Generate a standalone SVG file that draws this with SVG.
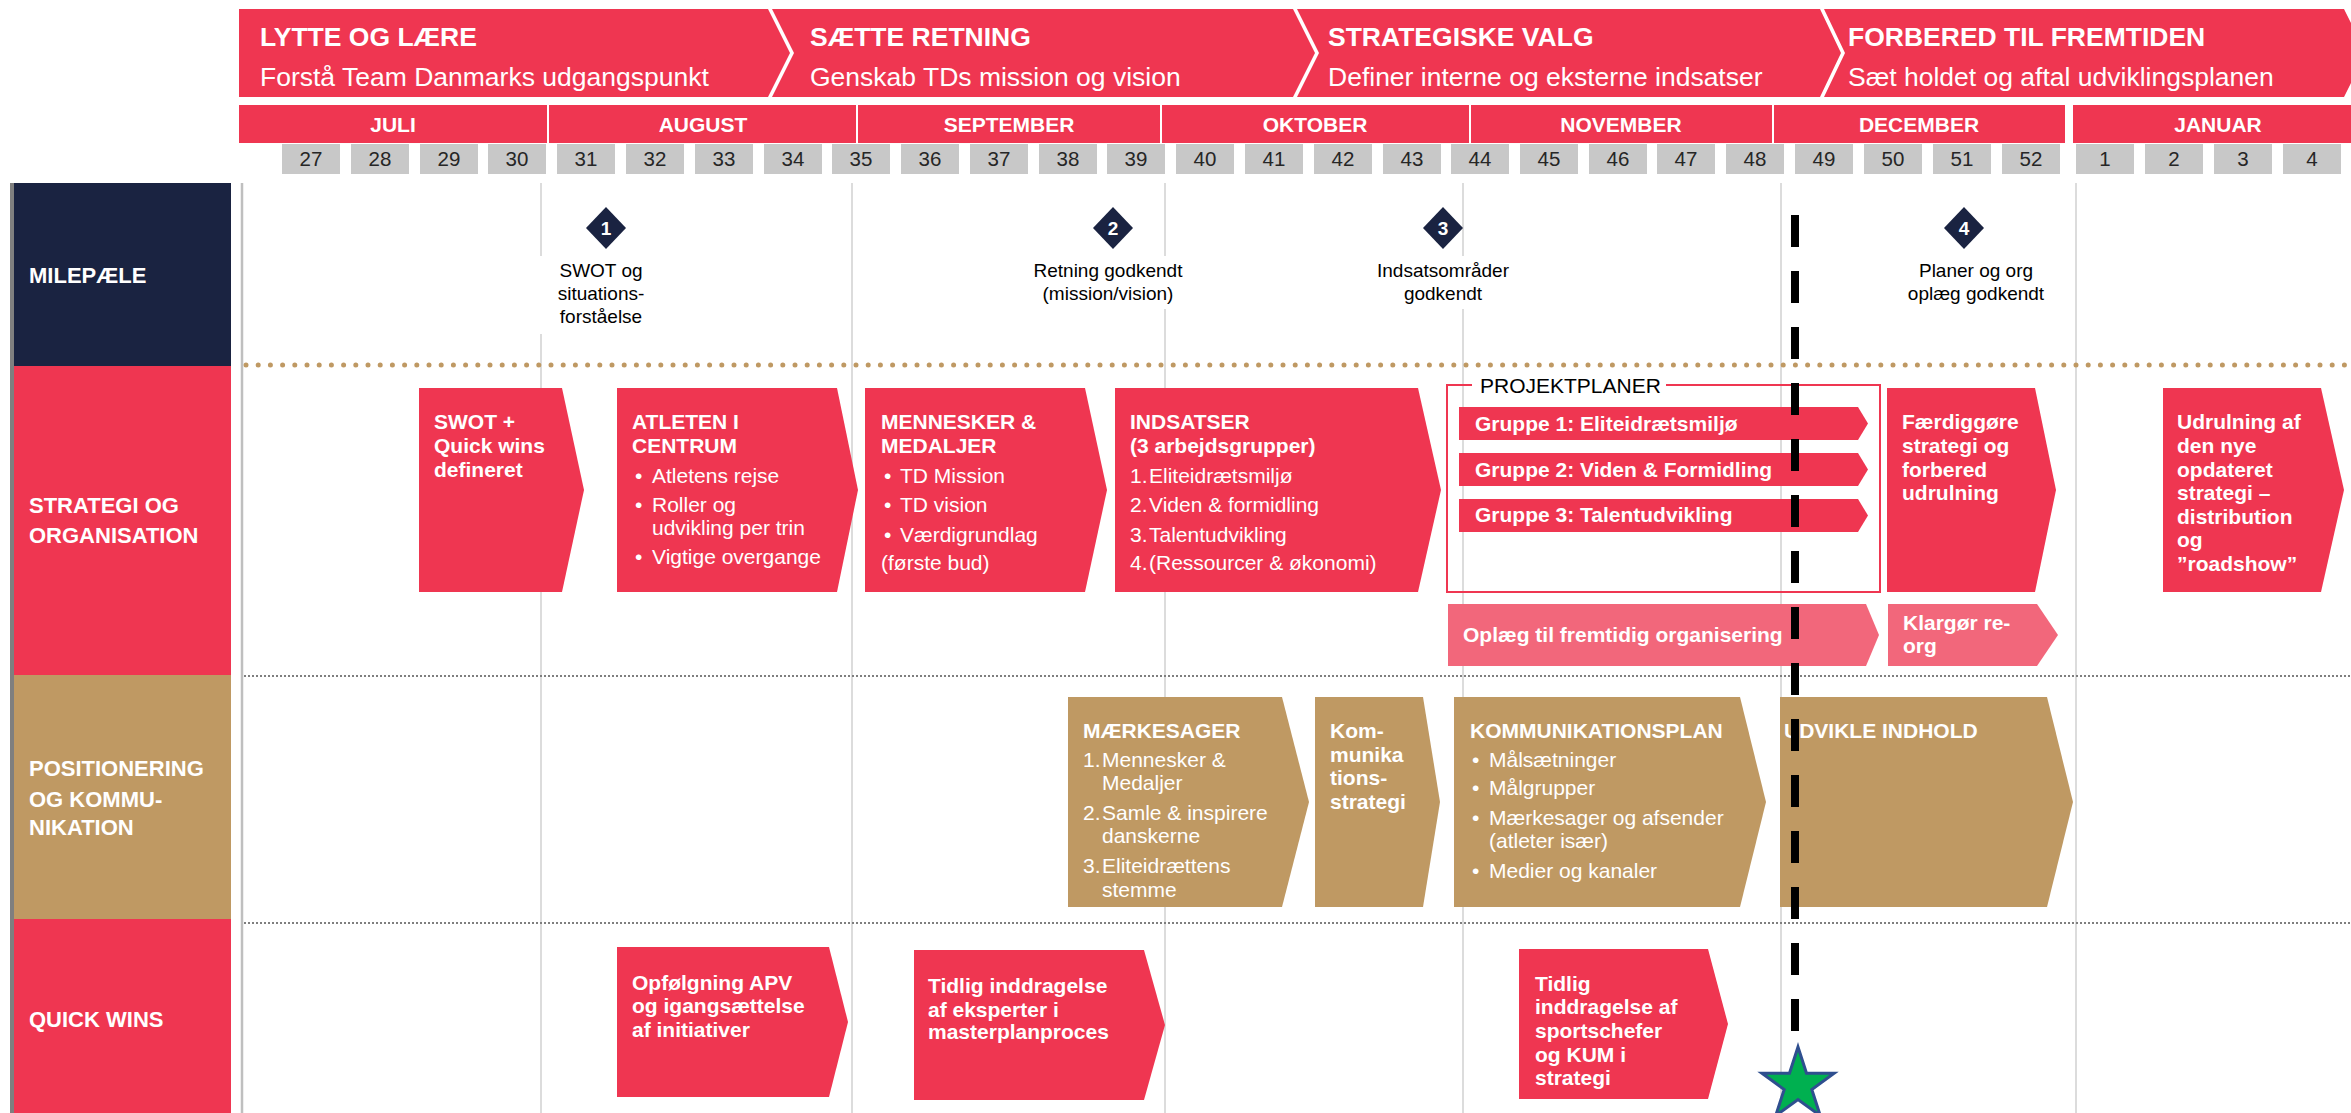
<svg xmlns="http://www.w3.org/2000/svg" width="2351" height="1113" viewBox="0 0 2351 1113">
<style>
text{font-family:"Liberation Sans",Arial,sans-serif}
.red{fill:#EF3651}
.pink{fill:#F2677B}
.gold{fill:#BF9963}
.navy{fill:#1A2341}
.wk{fill:#C8C8C8}
.wkt{font-size:20.5px;fill:#262626;text-anchor:middle}
.mon{font-size:21px;font-weight:bold;fill:#fff;text-anchor:middle}
.ph1{font-size:26.5px;font-weight:bold;fill:#fff}
.ph2{font-size:26.5px;fill:#fff}
.lab{font-size:22px;font-weight:bold;fill:#fff}
.b{font-size:21px;font-weight:bold;fill:#fff}
.r{font-size:21px;fill:#fff}
.ms{font-size:19px;fill:#000;text-anchor:middle}
.msn{font-size:19px;font-weight:bold;fill:#fff;text-anchor:middle}
.vl{stroke:#D0D0D0;stroke-width:1.5;fill:none}
</style>

<!-- phase banner -->
<g id="phase-1">
<polygon class="red" points="239,9 768,9 790,53 768,97 239,97"/>
<text class="ph1" x="260" y="46">LYTTE OG LÆRE</text>
<text class="ph2" x="260" y="86">Forstå Team Danmarks udgangspunkt</text>
</g>
<g id="phase-2">
<polygon class="red" points="772,9 1293,9 1315,53 1293,97 772,97 794,53"/>
<text class="ph1" x="810" y="46">SÆTTE RETNING</text>
<text class="ph2" x="810" y="86">Genskab TDs mission og vision</text>
</g>
<g id="phase-3">
<polygon class="red" points="1297,9 1820,9 1841,53 1820,97 1297,97 1319,53"/>
<text class="ph1" x="1328" y="46">STRATEGISKE VALG</text>
<text class="ph2" x="1328" y="86">Definer interne og eksterne indsatser</text>
</g>
<g id="phase-4">
<polygon class="red" points="1824,9 2344,9 2366,53 2344,97 1824,97 1845,53"/>
<text class="ph1" x="1848" y="46">FORBERED TIL FREMTIDEN</text>
<text class="ph2" x="1848" y="86">Sæt holdet og aftal udviklingsplanen</text>
</g>

<!-- months -->
<g id="months">
<rect class="red" x="239" y="105" width="308" height="38"/>
<rect class="red" x="549" y="105" width="307" height="38"/>
<rect class="red" x="858" y="105" width="302" height="38"/>
<rect class="red" x="1162" y="105" width="307" height="38"/>
<rect class="red" x="1471" y="105" width="301" height="38"/>
<rect class="red" x="1774" y="105" width="291" height="38"/>
<rect class="red" x="2073" y="105" width="278" height="38"/>
<text class="mon" x="393" y="132">JULI</text>
<text class="mon" x="703" y="132">AUGUST</text>
<text class="mon" x="1009" y="132">SEPTEMBER</text>
<text class="mon" x="1315" y="132">OKTOBER</text>
<text class="mon" x="1621" y="132">NOVEMBER</text>
<text class="mon" x="1919" y="132">DECEMBER</text>
<text class="mon" x="2218" y="132">JANUAR</text>
</g>

<!-- weeks -->
<g id="weeks">
<rect class="wk" x="282" y="144" width="58" height="30"/><text class="wkt" x="311" y="166">27</text>
<rect class="wk" x="351" y="144" width="58" height="30"/><text class="wkt" x="380" y="166">28</text>
<rect class="wk" x="420" y="144" width="58" height="30"/><text class="wkt" x="449" y="166">29</text>
<rect class="wk" x="488" y="144" width="58" height="30"/><text class="wkt" x="517" y="166">30</text>
<rect class="wk" x="557" y="144" width="58" height="30"/><text class="wkt" x="586" y="166">31</text>
<rect class="wk" x="626" y="144" width="58" height="30"/><text class="wkt" x="655" y="166">32</text>
<rect class="wk" x="695" y="144" width="58" height="30"/><text class="wkt" x="724" y="166">33</text>
<rect class="wk" x="764" y="144" width="58" height="30"/><text class="wkt" x="793" y="166">34</text>
<rect class="wk" x="832" y="144" width="58" height="30"/><text class="wkt" x="861" y="166">35</text>
<rect class="wk" x="901" y="144" width="58" height="30"/><text class="wkt" x="930" y="166">36</text>
<rect class="wk" x="970" y="144" width="58" height="30"/><text class="wkt" x="999" y="166">37</text>
<rect class="wk" x="1039" y="144" width="58" height="30"/><text class="wkt" x="1068" y="166">38</text>
<rect class="wk" x="1107" y="144" width="58" height="30"/><text class="wkt" x="1136" y="166">39</text>
<rect class="wk" x="1176" y="144" width="58" height="30"/><text class="wkt" x="1205" y="166">40</text>
<rect class="wk" x="1245" y="144" width="58" height="30"/><text class="wkt" x="1274" y="166">41</text>
<rect class="wk" x="1314" y="144" width="58" height="30"/><text class="wkt" x="1343" y="166">42</text>
<rect class="wk" x="1383" y="144" width="58" height="30"/><text class="wkt" x="1412" y="166">43</text>
<rect class="wk" x="1451" y="144" width="58" height="30"/><text class="wkt" x="1480" y="166">44</text>
<rect class="wk" x="1520" y="144" width="58" height="30"/><text class="wkt" x="1549" y="166">45</text>
<rect class="wk" x="1589" y="144" width="58" height="30"/><text class="wkt" x="1618" y="166">46</text>
<rect class="wk" x="1657" y="144" width="58" height="30"/><text class="wkt" x="1686" y="166">47</text>
<rect class="wk" x="1726" y="144" width="58" height="30"/><text class="wkt" x="1755" y="166">48</text>
<rect class="wk" x="1795" y="144" width="58" height="30"/><text class="wkt" x="1824" y="166">49</text>
<rect class="wk" x="1864" y="144" width="58" height="30"/><text class="wkt" x="1893" y="166">50</text>
<rect class="wk" x="1933" y="144" width="58" height="30"/><text class="wkt" x="1962" y="166">51</text>
<rect class="wk" x="2002" y="144" width="58" height="30"/><text class="wkt" x="2031" y="166">52</text>
<rect class="wk" x="2076" y="144" width="58" height="30"/><text class="wkt" x="2105" y="166">1</text>
<rect class="wk" x="2145" y="144" width="58" height="30"/><text class="wkt" x="2174" y="166">2</text>
<rect class="wk" x="2214" y="144" width="58" height="30"/><text class="wkt" x="2243" y="166">3</text>
<rect class="wk" x="2283" y="144" width="58" height="30"/><text class="wkt" x="2312" y="166">4</text>
</g>

<!-- row labels -->
<g id="row-labels">
<rect x="10" y="183" width="4" height="930" fill="#7F7F7F"/>
<rect class="navy" x="14" y="183" width="217" height="183"/>
<rect class="red" x="14" y="366" width="217" height="309"/>
<rect class="gold" x="14" y="675" width="217" height="244"/>
<rect class="red" x="14" y="919" width="217" height="194"/>
</g>
<g id="label-milepaele"><text class="lab" x="29" y="283">MILEPÆLE</text></g>
<g id="label-strategi"><text class="lab" x="29" y="513">STRATEGI OG</text><text class="lab" x="29" y="543">ORGANISATION</text></g>
<g id="label-positionering"><text class="lab" x="29" y="776">POSITIONERING</text><text class="lab" x="29" y="807">OG KOMMU-</text><text class="lab" x="29" y="835">NIKATION</text></g>
<g id="label-quickwins"><text class="lab" x="29" y="1027">QUICK WINS</text></g>

<!-- grid -->
<g id="grid">
<line x1="242" y1="183" x2="242" y2="1113" stroke="#BFBFBF" stroke-width="2.5"/>
<line class="vl" x1="541" y1="183" x2="541" y2="256"/>
<line class="vl" x1="541" y1="334" x2="541" y2="1113"/>
<line class="vl" x1="852" y1="183" x2="852" y2="1113"/>
<line class="vl" x1="1165" y1="183" x2="1165" y2="256"/>
<line class="vl" x1="1165" y1="309" x2="1165" y2="1113"/>
<line class="vl" x1="1463" y1="183" x2="1463" y2="256"/>
<line class="vl" x1="1463" y1="309" x2="1463" y2="1113"/>
<line class="vl" x1="1781" y1="183" x2="1781" y2="1113"/>
<line class="vl" x1="2076" y1="183" x2="2076" y2="1113"/>
<line x1="246" y1="365" x2="2351" y2="365" stroke="#BF9963" stroke-width="5" stroke-linecap="round" stroke-dasharray="0 12.2"/>
<line x1="244" y1="676" x2="2351" y2="676" stroke="#7F7F7F" stroke-width="2" stroke-dasharray="2 2"/>
<line x1="244" y1="923" x2="2351" y2="923" stroke="#7F7F7F" stroke-width="2" stroke-dasharray="2 2"/>
</g>

<!-- milestones -->
<g id="milestone-1">
<polygon class="navy" points="606,207 626,228 606,249 586,228"/>
<text class="msn" x="606" y="235">1</text>
<text class="ms" x="601" y="277">SWOT og</text>
<text class="ms" x="601" y="300">situations-</text>
<text class="ms" x="601" y="323">forståelse</text>
</g>
<g id="milestone-2">
<polygon class="navy" points="1113,207 1133,228 1113,249 1093,228"/>
<text class="msn" x="1113" y="235">2</text>
<text class="ms" x="1108" y="277">Retning godkendt</text>
<text class="ms" x="1108" y="300">(mission/vision)</text>
</g>
<g id="milestone-3">
<polygon class="navy" points="1443,207 1463,228 1443,249 1423,228"/>
<text class="msn" x="1443" y="235">3</text>
<text class="ms" x="1443" y="277">Indsatsområder</text>
<text class="ms" x="1443" y="300">godkendt</text>
</g>
<g id="milestone-4">
<polygon class="navy" points="1964,207 1984,228 1964,249 1944,228"/>
<text class="msn" x="1964" y="235">4</text>
<text class="ms" x="1976" y="277">Planer og org</text>
<text class="ms" x="1976" y="300">oplæg godkendt</text>
</g>

<!-- strategi og organisation -->
<g id="swot">
<polygon class="red" points="419,388 562,388 584,490 562,592 419,592"/>
<text class="b" x="434" y="429">SWOT +</text>
<text class="b" x="434" y="453">Quick wins</text>
<text class="b" x="434" y="477">defineret</text>
</g>
<g id="atleten">
<polygon class="red" points="617,388 837,388 858,490 837,592 617,592"/>
<text class="b" x="632" y="429">ATLETEN I</text>
<text class="b" x="632" y="453">CENTRUM</text>
<text class="r" x="635" y="483">•</text><text class="r" x="652" y="483">Atletens rejse</text>
<text class="r" x="635" y="512">•</text><text class="r" x="652" y="512">Roller og</text>
<text class="r" x="652" y="535">udvikling per trin</text>
<text class="r" x="635" y="564">•</text><text class="r" x="652" y="564">Vigtige overgange</text>
</g>
<g id="mennesker">
<polygon class="red" points="865,388 1085,388 1107,490 1085,592 865,592"/>
<text class="b" x="881" y="429">MENNESKER &amp;</text>
<text class="b" x="881" y="453">MEDALJER</text>
<text class="r" x="884" y="483">•</text><text class="r" x="900" y="483">TD Mission</text>
<text class="r" x="884" y="512">•</text><text class="r" x="900" y="512">TD vision</text>
<text class="r" x="884" y="542">•</text><text class="r" x="900" y="542">Værdigrundlag</text>
<text class="r" x="881" y="570">(første bud)</text>
</g>
<g id="indsatser">
<polygon class="red" points="1115,388 1418,388 1441,490 1418,592 1115,592"/>
<text class="b" x="1130" y="429">INDSATSER</text>
<text class="b" x="1130" y="453">(3 arbejdsgrupper)</text>
<text class="r" x="1130" y="483">1.</text><text class="r" x="1149" y="483">Eliteidrætsmiljø</text>
<text class="r" x="1130" y="512">2.</text><text class="r" x="1149" y="512">Viden &amp; formidling</text>
<text class="r" x="1130" y="542">3.</text><text class="r" x="1149" y="542">Talentudvikling</text>
<text class="r" x="1130" y="570">4.</text><text class="r" x="1149" y="570">(Ressourcer &amp; økonomi)</text>
</g>
<g id="projektplaner">
<polyline points="1472,385 1447,385 1447,592 1880,592 1880,385 1666,385" fill="none" stroke="#EF3651" stroke-width="2"/>
<text x="1480" y="393" font-size="21" fill="#000">PROJEKTPLANER</text>
</g>
<g id="gruppe-1">
<polygon class="red" points="1459,407 1858,407 1868,423.5 1858,440 1459,440"/>
<text class="b" x="1475" y="431">Gruppe 1: Eliteidrætsmiljø</text>
</g>
<g id="gruppe-2">
<polygon class="red" points="1459,453 1858,453 1868,469.5 1858,486 1459,486"/>
<text class="b" x="1475" y="477">Gruppe 2: Viden &amp; Formidling</text>
</g>
<g id="gruppe-3">
<polygon class="red" points="1459,499 1858,499 1868,515.5 1858,532 1459,532"/>
<text class="b" x="1475" y="522">Gruppe 3: Talentudvikling</text>
</g>
<g id="oplaeg">
<polygon class="pink" points="1448,604 1866,604 1879,635 1866,666 1448,666"/>
<text class="b" x="1463" y="642">Oplæg til fremtidig organisering</text>
</g>
<g id="faerdiggoere">
<polygon class="red" points="1887,388 2035,388 2056,490 2035,592 1887,592"/>
<text class="b" x="1902" y="429">Færdiggøre</text>
<text class="b" x="1902" y="453">strategi og</text>
<text class="b" x="1902" y="477">forbered</text>
<text class="b" x="1902" y="500">udrulning</text>
</g>
<g id="klargoer">
<polygon class="pink" points="1888,604 2037,604 2058,635 2037,666 1888,666"/>
<text class="b" x="1903" y="630">Klargør re-</text>
<text class="b" x="1903" y="653">org</text>
</g>
<g id="udrulning">
<polygon class="red" points="2163,388 2321,388 2344,490 2321,592 2163,592"/>
<text class="b" x="2177" y="429">Udrulning af</text>
<text class="b" x="2177" y="453">den nye</text>
<text class="b" x="2177" y="477">opdateret</text>
<text class="b" x="2177" y="500">strategi –</text>
<text class="b" x="2177" y="524">distribution</text>
<text class="b" x="2177" y="547">og</text>
<text class="b" x="2177" y="571">”roadshow”</text>
</g>

<!-- positionering og kommunikation -->
<g id="maerkesager">
<polygon class="gold" points="1068,697 1282,697 1309,802 1282,907 1068,907"/>
<text class="b" x="1083" y="738">MÆRKESAGER</text>
<text class="r" x="1083" y="767">1.</text><text class="r" x="1102" y="767">Mennesker &amp;</text>
<text class="r" x="1102" y="790">Medaljer</text>
<text class="r" x="1083" y="820">2.</text><text class="r" x="1102" y="820">Samle &amp; inspirere</text>
<text class="r" x="1102" y="843">danskerne</text>
<text class="r" x="1083" y="873">3.</text><text class="r" x="1102" y="873">Eliteidrættens</text>
<text class="r" x="1102" y="897">stemme</text>
</g>
<g id="kommunikationsstrategi">
<polygon class="gold" points="1315,697 1423,697 1440,802 1423,907 1315,907"/>
<text class="b" x="1330" y="738">Kom-</text>
<text class="b" x="1330" y="762">munika</text>
<text class="b" x="1330" y="785">tions-</text>
<text class="b" x="1330" y="809">strategi</text>
</g>
<g id="kommunikationsplan">
<polygon class="gold" points="1454,697 1740,697 1766,802 1740,907 1454,907"/>
<text class="b" x="1470" y="738">KOMMUNIKATIONSPLAN</text>
<text class="r" x="1472" y="767">•</text><text class="r" x="1489" y="767">Målsætninger</text>
<text class="r" x="1472" y="795">•</text><text class="r" x="1489" y="795">Målgrupper</text>
<text class="r" x="1472" y="825">•</text><text class="r" x="1489" y="825">Mærkesager og afsender</text>
<text class="r" x="1489" y="848">(atleter især)</text>
<text class="r" x="1472" y="878">•</text><text class="r" x="1489" y="878">Medier og kanaler</text>
</g>
<g id="udvikle-indhold">
<polygon class="gold" points="1780,697 2047,697 2073,802 2047,907 1780,907"/>
<text class="b" x="1784" y="738">UDVIKLE INDHOLD</text>
</g>

<!-- quick wins -->
<g id="opfoelgning">
<polygon class="red" points="617,947 829,947 848,1022 829,1097 617,1097"/>
<text class="b" x="632" y="990">Opfølgning APV</text>
<text class="b" x="632" y="1013">og igangsættelse</text>
<text class="b" x="632" y="1037">af initiativer</text>
</g>
<g id="tidlig-eksperter">
<polygon class="red" points="914,950 1144,950 1165,1025 1144,1100 914,1100"/>
<text class="b" x="928" y="993">Tidlig inddragelse</text>
<text class="b" x="928" y="1017">af eksperter i</text>
<text class="b" x="928" y="1039">masterplanproces</text>
</g>
<g id="tidlig-sportschefer">
<polygon class="red" points="1519,949 1708,949 1728,1024 1708,1099 1519,1099"/>
<text class="b" x="1535" y="991">Tidlig</text>
<text class="b" x="1535" y="1014">inddragelse af</text>
<text class="b" x="1535" y="1038">sportschefer</text>
<text class="b" x="1535" y="1062">og KUM i</text>
<text class="b" x="1535" y="1085">strategi</text>
</g>

<!-- today marker -->
<g id="connectors">
<line id="today-line" x1="1795" y1="215" x2="1795" y2="1031" stroke="#000" stroke-width="8" stroke-dasharray="32 24"/>
</g>
<g id="star">
<polygon points="1798,1047 1806.5,1073.3 1834.1,1073.3 1811.8,1089.5 1820.3,1115.7 1798,1099.5 1775.7,1115.7 1784.2,1089.5 1761.9,1073.3 1789.5,1073.3" fill="#00B050" stroke="#2F4F8F" stroke-width="3" stroke-linejoin="miter"/>
</g>
</svg>
